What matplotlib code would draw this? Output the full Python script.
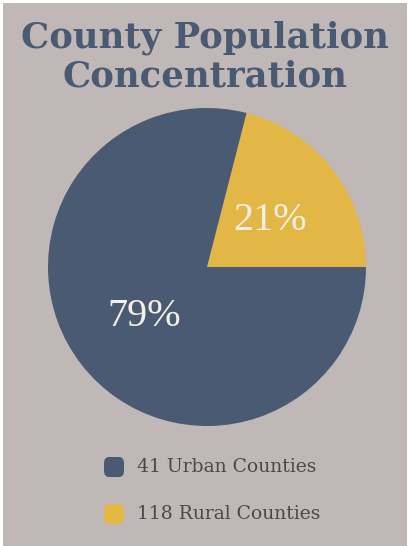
import matplotlib
matplotlib.use("Agg")
import matplotlib.pyplot as plt
from matplotlib.patches import FancyBboxPatch, Rectangle

title = "County Population\nConcentration"
categories = ["118 Rural Counties", "41 Urban Counties"]
shares = [21, 79]
pct_labels = ["21%", "79%"]
colors = ["#e3b745", "#4a5a72"]
legend_order = [1, 0]

W, H = 408, 546
fig = plt.figure(figsize=(W / 100, H / 100), dpi=100)
fig.patch.set_facecolor("white")
bg = "#c0b8b6"
fig.patches.append(Rectangle((3 / W, 0), (W - 4) / W, (H - 3) / H, transform=fig.transFigure,
                             facecolor=bg, edgecolor="none", zorder=-5))

fig.text(205 / W, 1 - 57 / H, title, ha="center", va="center", fontsize=25.5,
         family="DejaVu Serif", weight="bold", color="#4a5a72", linespacing=1.2)

cx, cy, r = 207, 267, 159
ax = fig.add_axes([(cx - r) / W, 1 - (cy + r) / H, 2 * r / W, 2 * r / H])
ax.set_zorder(1)
ax.patch.set_visible(False)
wedges, texts = ax.pie(shares, colors=colors, startangle=0, counterclock=True,
                       wedgeprops=dict(linewidth=0))
ax.set_aspect("equal")
ax.axis("off")
ax.set_xlim(-1, 1)
ax.set_ylim(-1, 1)

label_pos = [(270, 221), (144, 317)]
for lbl, (px, py) in zip(pct_labels, label_pos):
    fig.text(px / W, 1 - py / H, lbl, ha="center", va="center", fontsize=29,
             family="Liberation Serif", color="#f4efe6", zorder=5)

for i, idx in enumerate(legend_order):
    yc = 467 + i * 47
    fig.patches.append(FancyBboxPatch(((104) / W, 1 - (yc + 10) / H), 20 / W, 20 / H,
                                      boxstyle="round,pad=0,rounding_size=0.012",
                                      transform=fig.transFigure, facecolor=colors[idx],
                                      edgecolor="none", zorder=2))
    fig.text(137 / W, 1 - yc / H, categories[idx], ha="left", va="center", fontsize=13.5,
             family="DejaVu Serif", color="#4d4848")

fig.savefig("out.png", dpi=100, facecolor="white")
